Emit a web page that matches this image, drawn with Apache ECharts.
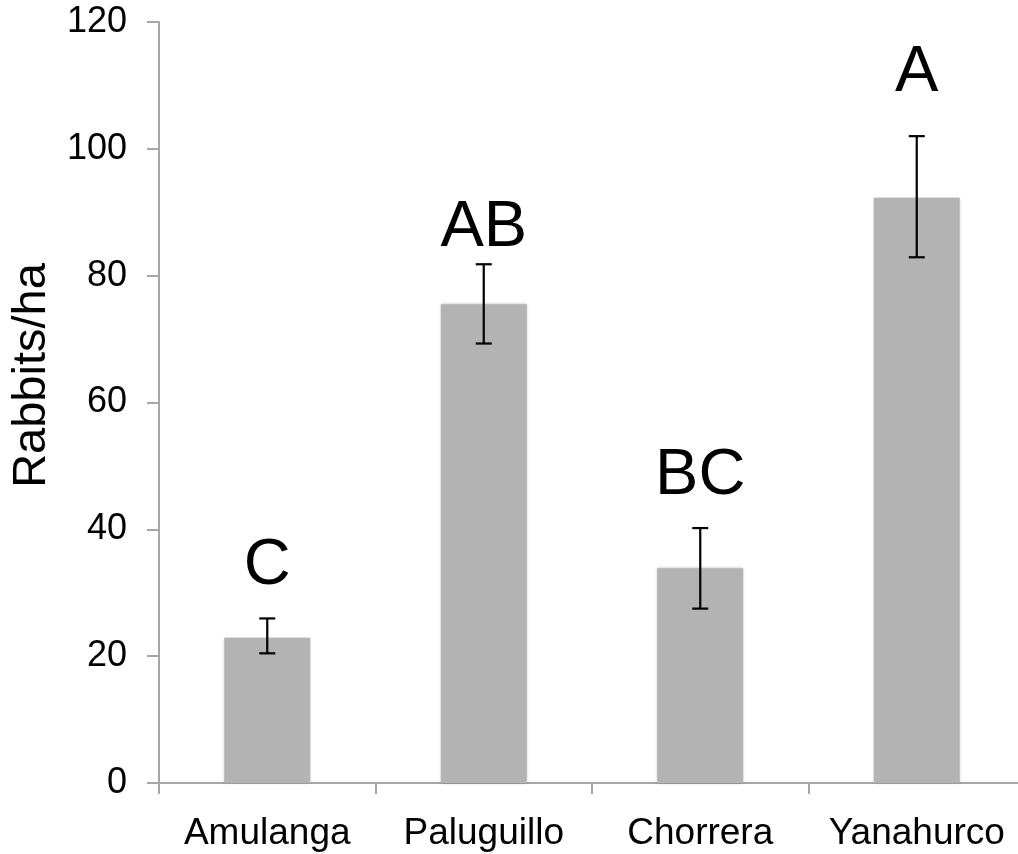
<!DOCTYPE html>
<html>
<head>
<meta charset="utf-8">
<script src="https://cdn.jsdelivr.net/npm/echarts@6/dist/echarts.min.js"></script>
<style>
  html, body { margin: 0; padding: 0; background: #fff; }
  #chart { width: 1018px; height: 854px; }
</style>
</head>
<body>
<div id="chart"></div>
<script>
// values
var sites = ['Amulanga', 'Paluguillo', 'Chorrera', 'Yanahurco'];
var rabbits = [22.9, 75.5, 33.85, 92.3];
var errLow = [20.45, 69.3, 27.5, 82.9];
var errHigh = [25.95, 81.8, 40.2, 102.0];
var groups = ['C', 'AB', 'BC', 'A'];
var groupAt = [31.2, 84.5, 45.4, 108.8];
var yTicks = [0, 20, 40, 60, 80, 100, 120];

var font = 'Liberation Sans, Arial, sans-serif';
var axisGray = '#a6a6a6';

var chart = echarts.init(document.getElementById('chart'));

var errData = sites.map(function(s, i) { return [i, errLow[i], errHigh[i]]; });
var groupData = sites.map(function(s, i) { return [i, groupAt[i], groups[i]]; });

var option = {
    animation: false,
    grid: { left: 159, right: -7, top: 22, bottom: 71, outerBoundsMode: 'none', containLabel: false },
    xAxis: {
        type: 'category',
        data: sites,
        axisLine: { lineStyle: { color: axisGray, width: 2 } },
        axisTick: { show: true, length: 11, lineStyle: { color: axisGray, width: 2 } },
        axisLabel: { color: '#000', fontFamily: font, fontSize: 37, margin: 32, interval: 0, hideOverlap: false }
    },
    yAxis: {
        type: 'value',
        min: yTicks[0],
        max: yTicks[yTicks.length - 1],
        interval: 20,
        name: 'Rabbits/ha',
        nameLocation: 'middle',
        nameGap: 102,
        nameTextStyle: { color: '#000', fontFamily: font, fontSize: 47, padding: [0, 0, 0, 54] },
        axisLine: { show: true, lineStyle: { color: axisGray, width: 2 } },
        axisTick: { show: true, length: 12, lineStyle: { color: axisGray, width: 2 } },
        axisLabel: { color: '#000', fontFamily: font, fontSize: 36, margin: 32 },
        splitLine: { show: false }
    },
    series: [
        {
            type: 'bar',
            data: rabbits,
            barWidth: 86,
            itemStyle: {
                color: '#b3b3b3',
                shadowBlur: 3,
                shadowColor: 'rgba(0,0,0,0.25)'
            }
        },
        {
            type: 'custom',
            data: errData,
            z: 5,
            renderItem: function(params, api) {
                var x = api.value(0);
                var lo = api.coord([x, api.value(1)]);
                var hi = api.coord([x, api.value(2)]);
                var half = 8;
                var st = { stroke: '#000', lineWidth: 2.2 };
                return {
                    type: 'group',
                    children: [
                        { type: 'line', shape: { x1: hi[0], y1: hi[1], x2: lo[0], y2: lo[1] }, style: st },
                        { type: 'line', shape: { x1: hi[0] - half, y1: hi[1], x2: hi[0] + half, y2: hi[1] }, style: st },
                        { type: 'line', shape: { x1: lo[0] - half, y1: lo[1], x2: lo[0] + half, y2: lo[1] }, style: st }
                    ]
                };
            }
        },
        {
            type: 'custom',
            data: groupData,
            z: 6,
            renderItem: function(params, api) {
                var p = api.coord([api.value(0), api.value(1)]);
                // groupAt is the letters' baseline; push the text box down by its descent
                return {
                    type: 'text',
                    x: p[0],
                    y: p[1] + 13,
                    style: {
                        text: groups[params.dataIndex],
                        fill: '#000',
                        font: '65px ' + font,
                        textAlign: 'center',
                        textVerticalAlign: 'bottom'
                    }
                };
            }
        }
    ]
};

chart.setOption(option);
</script>
</body>
</html>
